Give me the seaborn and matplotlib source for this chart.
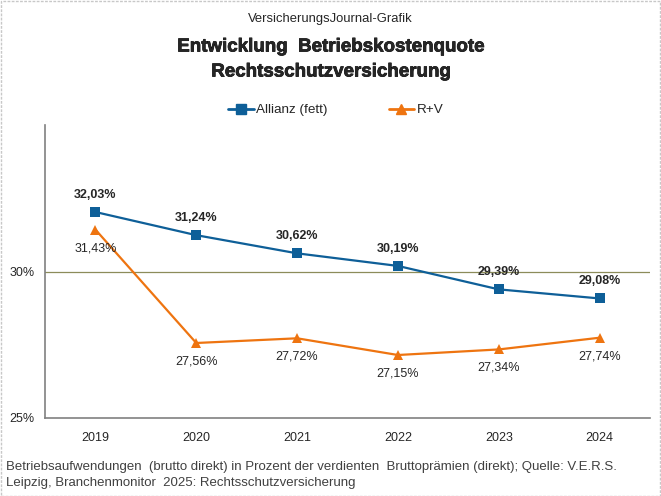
import numpy as np
import matplotlib.pyplot as plt
import seaborn as sns
import pandas as pd
import matplotlib.patheffects as pe
from matplotlib.patches import Rectangle
from matplotlib.lines import Line2D

sns.set_style('white')
plt.rcParams['font.family'] = ['Liberation Sans', 'DejaVu Sans']

jahre = ['2019', '2020', '2021', '2022', '2023', '2024']
allianz = [32.03, 31.24, 30.62, 30.19, 29.39, 29.08]
ruv = [31.43, 27.56, 27.72, 27.15, 27.34, 27.74]

df = pd.DataFrame({
    'x': list(range(len(jahre))) * 2,
    'wert': allianz + ruv,
    'serie': ['Allianz (fett)'] * len(jahre) + ['R+V'] * len(jahre),
})

blau = '#0e5f98'
orange = '#ee7410'

fig = plt.figure(figsize=(6.61, 4.96), dpi=100)
ax = fig.add_axes([45 / 661, 1 - 418 / 496, 605 / 661, 293 / 496])

ax.axhline(30, color='#8c8c5a', lw=0.9, zorder=1)
sns.lineplot(data=df, x='x', y='wert', hue='serie', style='serie',
             palette=[blau, orange], markers=['s', '^'], dashes=False,
             markersize=7.5, markeredgewidth=0, linewidth=1.6, ax=ax, legend=False, zorder=3)

for i, v in enumerate(allianz):
    ax.annotate(f'{v:.2f}%'.replace('.', ','), (i, v), xytext=(0, 8),
                textcoords='offset points', ha='center', va='bottom',
                fontsize=9, fontweight='bold')
for i, v in enumerate(ruv):
    ax.annotate(f'{v:.2f}%'.replace('.', ','), (i, v), xytext=(0, -9),
                textcoords='offset points', ha='center', va='top', fontsize=9)

ax.set_xlim(-0.5, 5.5)
ax.set_ylim(25, 35)
ax.set_xticks(range(len(jahre)))
ax.set_xticklabels(jahre)
ax.set_yticks([25, 30, 35])
ax.set_yticklabels(['25%', '30%', ''])
ax.set_xlabel('')
ax.set_ylabel('')
for s in ['top', 'right']:
    ax.spines[s].set_visible(False)
for s in ['left', 'bottom']:
    ax.spines[s].set_color('#808080')
    ax.spines[s].set_linewidth(1.2)
ax.tick_params(axis='both', length=4, color='#808080', labelsize=9, direction='out')
ax.tick_params(axis='x', pad=6)

# legend
h = [Line2D([], [], color=blau, marker='s', markersize=7, lw=2),
     Line2D([], [], color=orange, marker='^', markersize=7, lw=2)]
fig.legend(h, ['Allianz (fett)', 'R+V'], loc='center left', bbox_to_anchor=(216 / 661, 1 - 110 / 496),
           ncol=2, frameon=False, fontsize=9.7, handlelength=1.9,
           columnspacing=4.5, handletextpad=0.2)

fig.text(0.5, 1 - 19 / 496, 'VersicherungsJournal-Grafik', ha='center', va='center', fontsize=9.4)
for txt, y in [('Entwicklung  Betriebskostenquote', 47), ('Rechtsschutzversicherung', 72)]:
    fig.text(0.5, 1 - y / 496, txt, ha='center', va='center', fontsize=13.5, fontweight='bold',
             path_effects=[pe.withStroke(linewidth=0.5, foreground='black')])
fig.text(6 / 661, 1 - 467 / 496,
         'Betriebsaufwendungen  (brutto direkt) in Prozent der verdienten  Bruttoprämien (direkt); Quelle: V.E.R.S.',
         ha='left', va='center', fontsize=9.5, color='#404040')
fig.text(6 / 661, 1 - 483 / 496, 'Leipzig, Branchenmonitor  2025: Rechtsschutzversicherung',
         ha='left', va='center', fontsize=9.5, color='#404040')

fig.patches.append(Rectangle((0.001, 0.001), 0.997, 0.997, transform=fig.transFigure,
                             fill=False, ec='#c8c8c8', lw=1, ls=(0, (2, 1))))

fig.savefig('out.png', dpi=100)
